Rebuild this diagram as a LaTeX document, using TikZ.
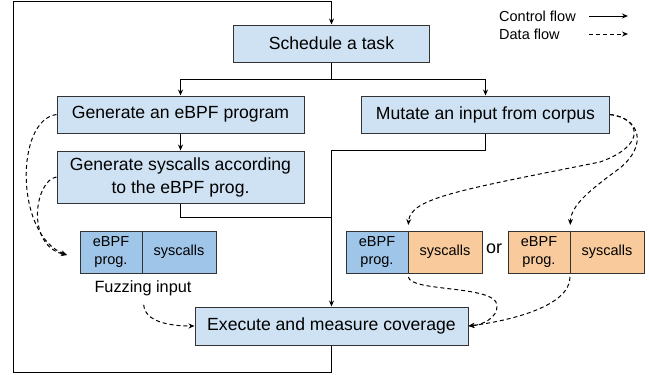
\documentclass[tikz,border=0pt]{standalone}
\usepackage{fontspec}
\setmainfont{Liberation Sans}
\usepackage{xcolor}
\usepackage{tikz}
\usetikzlibrary{arrows.meta, positioning}
\definecolor{lightblue}{HTML}{CFE2F3}
\definecolor{midblue}{HTML}{9FC5E8}
\definecolor{peach}{HTML}{F9CB9C}
\definecolor{boxline}{HTML}{333333}
\tikzset{
  box/.style={rectangle, draw=boxline, fill=lightblue, line width=1pt, minimum height=37pt, inner sep=0pt, align=center, font=\fontsize{17.6}{23}\selectfont},
  part/.style={rectangle, draw=boxline, line width=1pt, minimum height=42pt, inner sep=0pt, outer sep=0pt, align=center, font=\fontsize{14.5}{18}\selectfont},
  legend/.style={anchor=west, inner sep=0pt, font=\fontsize{14.5}{18}\selectfont},
  arrow/.style={-{Stealth[length=6pt, width=5pt]}, line width=1pt},
  data/.style={arrow, dash pattern=on 4pt off 3pt},
}

\begin{document}
\begin{tikzpicture}[x=1pt, y=-1pt]
    \useasboundingbox (0,0) rectangle (649,375);
    % main steps
    \node[box, minimum width=196pt] (sched) at (331.5,43.5) {Schedule a task};
    \node[box, minimum width=247pt] (geneb) at (180.5,114.5) {Generate an eBPF program};
    \node[box, minimum width=248pt] (mutate) at (485.5,114.5) {Mutate an input from corpus};
    \node[box, minimum width=247pt, minimum height=52pt] (gensys) at (180.5,177) {Generate syscalls according\\to the eBPF prog.};
    \node[box, minimum width=273pt, minimum height=38pt] (exec) at (331.5,326) {Execute and measure coverage};
    % fuzzing inputs
    \node[part, fill=midblue, minimum width=62pt] (fzprog) at (111,252) {eBPF\\prog.};
    \node[part, fill=midblue, minimum width=74pt, right=0pt of fzprog] (fzsys) {syscalls};
    \node[inner sep=0pt, font=\fontsize{16.3}{20}\selectfont] (fzlabel) at (143,288) {Fuzzing input};
    \node[part, fill=midblue, minimum width=62pt] (aprog) at (377,252) {eBPF\\prog.};
    \node[part, fill=peach, minimum width=74pt, right=0pt of aprog] (asys) {syscalls};
    \node[inner sep=0pt, font=\fontsize{18}{22}\selectfont] (or) at (494,249) {or};
    \node[part, fill=peach, minimum width=62pt] (bprog) at (539,252) {eBPF\\prog.};
    \node[part, fill=peach, minimum width=74pt, right=0pt of bprog] (bsys) {syscalls};
    % legend
    \node[legend] (ctl) at (499,16) {Control flow};
    \node[legend] (dat) at (499,34) {Data flow};
    \coordinate (ctlA) at (589,16);
    \coordinate (ctlB) at (628,16);
    \coordinate (datA) at (589,34);
    \coordinate (datB) at (628,34);
    \draw[arrow] (ctlA) -- (ctlB);
    \draw[data] (datA) -- (datB);
    % control flow
    \coordinate (lb) at (13,372);
    \coordinate (lt) at (13,1);
    \coordinate (split) at (331.5,79);
    \coordinate (join) at (331.5,150);
    \coordinate (merge) at (331.5,217);
    \draw[arrow] (exec.south) |- (lb) -- (lt) -| (sched.north);
    \draw (sched.south) -- (split);
    \draw[arrow] (split) -| (geneb.north);
    \draw[arrow] (split) -| (mutate.north);
    \draw[arrow] (geneb) -- (gensys);
    \draw (gensys.south) |- (merge);
    \draw[arrow] (mutate.south) |- (join) -- (exec.north);
    % data flow
    \coordinate (fzin) at (67,255);
    \draw[data] (geneb.west) .. controls (15,120) and (15,235) .. (fzin);
    \draw[data] (gensys.west) .. controls (35,180) and (25,245) .. (fzin);
    \draw[data, shorten <=9pt] (fzlabel.south) .. controls (145,322) and (170,326) .. (exec.west);
    \draw[data, shorten >=6pt] (mutate.east) .. controls (640,118) and (648,145) .. (600,162) .. controls (460,190) and (410,198) .. (aprog.north east);
    \draw[data, shorten >=6pt] (mutate.east) .. controls (640,118) and (648,145) .. (620,168) .. controls (590,190) and (571,205) .. (bprog.north east);
    \draw[data, shorten <=4pt] (aprog.south east) .. controls (410,292) and (495,285) .. (497,305) .. controls (498,318) and (482,325) .. (exec.east);
    \draw[data, shorten <=4pt] (bprog.south east) .. controls (570,305) and (515,320) .. (exec.east);
\end{tikzpicture}
\end{document}
